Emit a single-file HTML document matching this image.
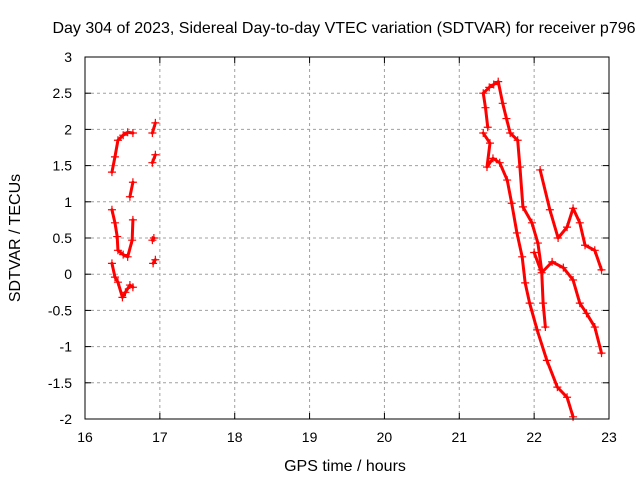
<!DOCTYPE html>
<html><head><meta charset="utf-8"><style>
body{margin:0;background:#fff}
svg text{font-family:"Liberation Sans",sans-serif;font-size:14px;fill:#000}
svg text.big{font-size:16px}
</style></head><body>
<svg id="c" width="640" height="480">
<text class="big" x="344" y="33" text-anchor="middle">Day 304 of 2023, Sidereal Day-to-day VTEC variation (SDTVAR) for receiver p796</text>
<text class="big" x="345" y="471" text-anchor="middle">GPS time / hours</text>
<text class="big" transform="translate(20,238) rotate(-90)" text-anchor="middle">SDTVAR / TECUs</text>
<g id="grid"></g><g id="ticks"></g><g id="data"></g>
<rect x="85" y="57" width="524" height="362" fill="none" stroke="#000" stroke-width="1"/>
</svg>
<script>
const xTicks=[16,17,18,19,20,21,22,23];
const yTicks=[3,2.5,2,1.5,1,0.5,0,-0.5,-1,-1.5,-2];
const yTickLabels=["3","2.5","2","1.5","1","0.5","0","-0.5","-1","-1.5","-2"];
const seg1H=[16.36,16.4,16.44,16.51,16.57,16.64];
const seg1V=[1.41,1.62,1.85,1.92,1.96,1.95];
const seg2H=[16.6,16.64];const seg2V=[1.07,1.27];
const seg3H=[16.9,16.94];const seg3V=[1.95,2.09];
const seg4H=[16.9,16.94];const seg4V=[1.54,1.65];
const seg5H=[16.9,16.92];const seg5V=[0.47,0.5];
const seg6H=[16.91,16.94];const seg6V=[0.15,0.2];
const seg7H=[16.36,16.4,16.43,16.44,16.51,16.57,16.63,16.64];
const seg7V=[0.89,0.71,0.52,0.33,0.27,0.24,0.47,0.75];
const seg8H=[16.36,16.4,16.44,16.5,16.54,16.6,16.64];
const seg8V=[0.15,-0.04,-0.11,-0.32,-0.25,-0.15,-0.18];
const arcAH=[21.38,21.35,21.32,21.4,21.46,21.52,21.58,21.63,21.68,21.78,21.81,21.85,21.97,22.05,22.1,22.12,22.15];
const arcAV=[2.03,2.3,2.5,2.58,2.62,2.66,2.36,2.15,1.95,1.85,1.48,0.93,0.71,0.43,0.06,-0.4,-0.73];
const arcBH=[21.32,21.41,21.37,21.45,21.54,21.64,21.7,21.77,21.84,21.88,21.94,22.04,22.17,22.31,22.44,22.52];
const arcBV=[1.95,1.81,1.48,1.6,1.54,1.3,0.98,0.57,0.24,-0.12,-0.4,-0.77,-1.19,-1.56,-1.7,-1.97];
const arcCH=[22.08,22.21,22.32,22.44,22.52,22.61,22.68,22.81,22.9];
const arcCV=[1.44,0.89,0.5,0.65,0.91,0.71,0.4,0.33,0.06];
const arcDH=[22.0,22.1,22.24,22.39,22.52,22.61,22.7,22.81,22.9];
const arcDV=[0.3,0.02,0.17,0.09,-0.08,-0.4,-0.54,-0.73,-1.09];
const NS="http://www.w3.org/2000/svg";
const X=h=>85+(h-16)*524/7, Y=v=>57+(3-v)*362/5;
function mk(t,a,p){const e=document.createElementNS(NS,t);for(const k in a)e.setAttribute(k,a[k]);p.appendChild(e);return e;}
const g=document.getElementById('grid'),tk=document.getElementById('ticks'),d=document.getElementById('data');
xTicks.forEach((h,i)=>{
 if(i>0&&i<xTicks.length-1){const l=mk('line',{x1:X(h),x2:X(h),y1:57,y2:419,stroke:'#a0a0a0','stroke-dasharray':'3,3'},g);
 
 }
 mk('line',{x1:X(h),x2:X(h),y1:419,y2:413,stroke:'#000'},tk);
 mk('line',{x1:X(h),x2:X(h),y1:57,y2:63,stroke:'#000'},tk);
 const t=mk('text',{x:X(h),y:442,'text-anchor':'middle'},tk);t.textContent=h;
 
 
});
yTicks.forEach((v,i)=>{
 if(i>0&&i<yTicks.length-1){const l=mk('line',{x1:85,x2:609,y1:Y(v),y2:Y(v),stroke:'#a0a0a0','stroke-dasharray':'3,3'},g);
 
 }
 mk('line',{x1:85,x2:91,y1:Y(v),y2:Y(v),stroke:'#000'},tk);
 mk('line',{x1:609,x2:603,y1:Y(v),y2:Y(v),stroke:'#000'},tk);
 const t=mk('text',{x:72,y:Y(v)+5,'text-anchor':'end'},tk);t.textContent=yTickLabels[i];
 
 
});
const series=[[seg1H,seg1V],[seg2H,seg2V],[seg3H,seg3V],[seg4H,seg4V],[seg5H,seg5V],[seg6H,seg6V],[seg7H,seg7V],[seg8H,seg8V],[arcAH,arcAV],[arcBH,arcBV],[arcCH,arcCV],[arcDH,arcDV]];
series.forEach(([H,V])=>{
 const pl=mk('polyline',{points:H.map((h,i)=>X(h)+','+Y(V[i])).join(' '),fill:'none',stroke:'#f00','stroke-width':3,'stroke-linejoin':'round','stroke-linecap':'round'},d);
 
 
 H.forEach((h,i)=>{const x=X(h),y=Y(V[i]);
  const p=mk('path',{d:`M${x-4},${y}H${x+4}M${x},${y-4}V${y+4}`,stroke:'#f00','stroke-width':1.2},d);
  
  });
});
</script>
</body></html>
